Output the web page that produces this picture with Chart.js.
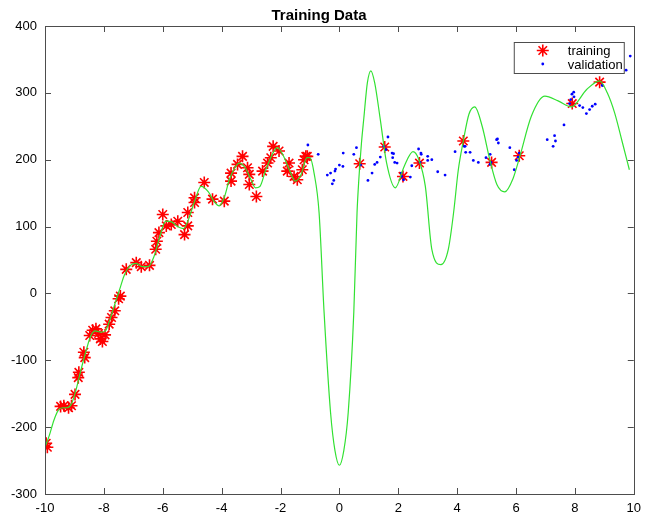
<!DOCTYPE html>
<html>
<head>
<meta charset="utf-8">
<script src="https://cdn.jsdelivr.net/npm/chart.js@4/dist/chart.umd.min.js"></script>
<style>
  html, body { margin: 0; padding: 0; background: #fff; }
  #wrap { width: 648px; height: 519px; position: relative; }
</style>
</head>
<body>
<div id="wrap"><canvas id="trainingChart"></canvas></div>
<script>
// Training samples (red asterisks)
const trainX = [-9.96, -9.92, -9.47, -9.36, -9.2, -9.1, -8.98, -8.87, -8.85, -8.68, -8.65, -8.48, -8.38, -8.27, -8.18, -8.12, -8.05, -7.96, -7.82, -7.74, -7.63, -7.5, -7.44, -7.24, -6.9, -6.73, -6.45, -6.24, -6.2, -6.13, -6.0, -5.88, -5.71, -5.49, -5.26, -5.15, -5.15, -4.92, -4.92, -4.59, -4.31, -3.91, -3.68, -3.68, -3.46, -3.29, -3.12, -3.06, -3.06, -2.82, -2.61, -2.44, -2.33, -2.25, -2.05, -1.77, -1.71, -1.54, -1.43, -1.26, -1.2, -1.14, -1.09, 0.69, 1.54, 2.16, 2.72, 4.21, 5.17, 6.11, 7.91, 8.84];
const trainY = [-224, -230, -169, -168, -171, -168, -151, -126, -118, -88, -96, -63, -55, -53, -60, -68, -72, -62, -46, -36, -26, -8, -4, 36, 46, 40, 42, 66, 78, 91, 118, 101, 103, 108, 88, 121, 101, 136, 143, 166, 141, 138, 180, 168, 193, 205, 188, 178, 163, 145, 183, 195, 203, 220, 213, 183, 195, 175, 170, 185, 200, 205, 205, 194, 219, 175, 195, 228, 196, 206, 284, 316];

// Validation samples (blue dots)
const valX = [-1.07, -0.72, -0.41, -0.3, -0.24, -0.19, -0.15, -0.13, 0.0, 0.12, 0.13, 0.49, 0.58, 0.72, 0.97, 1.11, 1.2, 1.28, 1.39, 1.51, 1.58, 1.65, 1.79, 1.81, 1.84, 1.88, 1.96, 2.1, 2.12, 2.18, 2.41, 2.46, 2.69, 2.74, 2.77, 2.78, 3.0, 3.0, 3.14, 3.34, 3.59, 3.93, 4.24, 4.27, 4.29, 4.44, 4.55, 4.72, 4.98, 5.12, 5.12, 5.15, 5.34, 5.37, 5.4, 5.79, 5.94, 6.02, 6.07, 6.11, 7.06, 7.26, 7.31, 7.34, 7.63, 7.82, 7.86, 7.9, 7.96, 7.97, 8.16, 8.27, 8.39, 8.5, 8.59, 8.69, 8.93, 9.74, 9.88];
const valY = [222, 208, 177, 180, 164, 169, 183, 186, 192, 190, 210, 208, 218, 192, 169, 180, 193, 196, 204, 220, 215, 234, 210, 203, 209, 196, 195, 180, 175, 170, 174, 191, 216, 196, 210, 208, 205, 199, 200, 182, 177, 212, 220, 220, 211, 211, 199, 196, 203, 208, 193, 196, 230, 231, 225, 218, 185, 199, 204, 210, 230, 220, 236, 228, 252, 284, 290, 298, 301, 294, 281, 278, 269, 275, 280, 283, 311, 334, 355];

// Fitted curve (green line)
const curveX = [-10, -9.85, -9.7, -9.55, -9.4, -9.25, -9.1, -8.95, -8.8, -8.6, -8.45, -8.3, -8.1, -7.95, -7.8, -7.6, -7.45, -7.3, -7.1, -6.9, -6.7, -6.5, -6.3, -6.1, -5.9, -5.7, -5.5, -5.3, -5.15, -4.9, -4.7, -4.45, -4.25, -4.08, -3.9, -3.74, -3.55, -3.4, -3.2, -3.0, -2.85, -2.7, -2.5, -2.3, -2.12, -1.95, -1.7, -1.5, -1.3, -1.1, -1.0, -0.86, -0.69, -0.52, -0.3, -0.15, 0, 0.15, 0.3, 0.49, 0.6, 0.66, 0.75, 0.83, 0.95, 1.07, 1.2, 1.39, 1.6, 1.9, 2.2, 2.5, 2.7, 2.92, 3.14, 3.45, 3.7, 3.88, 4.04, 4.21, 4.4, 4.6, 4.85, 5.11, 5.35, 5.62, 5.9, 6.13, 6.52, 6.98, 7.43, 7.88, 8.4, 8.84, 9.1, 9.35, 9.6, 9.85];
const curveY = [-230, -212, -190, -175, -171, -171, -165, -145, -118, -85, -64, -56, -58, -56, -40, -12, 8, 28, 42, 45, 40, 40, 55, 85, 108, 107, 100, 97, 108, 140, 160, 152, 137, 131, 145, 170, 188, 195, 188, 170, 158, 160, 185, 206, 218, 210, 185, 168, 178, 203, 203, 180, 121, -28, -178, -235, -257, -235, -178, -28, 121, 170, 225, 262, 315, 333, 315, 260, 196, 158, 190, 212, 200, 160, 66, 43, 66, 121, 185, 228, 268, 279, 250, 200, 163, 152, 172, 205, 265, 295, 288, 279, 305, 318, 300, 270, 228, 185];

const xTicks = [-10, -8, -6, -4, -2, 0, 2, 4, 6, 8, 10];
const yTicks = [-300, -200, -100, 0, 100, 200, 300, 400];

const legendLabels = ['training', 'validation'];

const FONT = '"Liberation Sans", Arial, Helvetica, sans-serif';
const AXIS_COLOR = '#4d4d4d';

function toPoints(xs, ys) {
    return xs.map((x, i) => ({ x: x, y: ys[i] }));
}

// MATLAB style box with inward ticks on all four sides
const boxTicks = {
    id: 'boxTicks',
    afterDatasetsDraw(chart) {
        const ctx = chart.ctx;
        const a = chart.chartArea;
        const xs = chart.scales.x;
        const ys = chart.scales.y;
        const len = 6;
        ctx.save();
        ctx.strokeStyle = AXIS_COLOR;
        ctx.lineWidth = 1;
        ctx.beginPath();
        xTicks.forEach(v => {
            const px = Math.round(xs.getPixelForValue(v)) + 0.5;
            ctx.moveTo(px, a.bottom);
            ctx.lineTo(px, a.bottom - len);
            ctx.moveTo(px, a.top);
            ctx.lineTo(px, a.top + len);
        });
        yTicks.forEach(v => {
            const py = Math.round(ys.getPixelForValue(v)) + 0.5;
            ctx.moveTo(a.left, py);
            ctx.lineTo(a.left + len, py);
            ctx.moveTo(a.right, py);
            ctx.lineTo(a.right - len, py);
        });
        ctx.stroke();
        ctx.strokeRect(Math.round(a.left) + 0.5, Math.round(a.top) + 0.5,
            Math.round(a.right - a.left), Math.round(a.bottom - a.top));
        ctx.restore();
    }
};

// Legend box in the top right corner of the axes
const cornerLegend = {
    id: 'cornerLegend',
    afterDraw(chart) {
        const ctx = chart.ctx;
        const a = chart.chartArea;
        const w = 110, h = 31;
        const left = a.right - 10 - w;
        const top = a.top + 16;
        ctx.save();
        ctx.fillStyle = '#fff';
        ctx.fillRect(left, top, w, h);
        ctx.strokeStyle = AXIS_COLOR;
        ctx.lineWidth = 1;
        ctx.strokeRect(left + 0.5, top + 0.5, w, h);

        ctx.font = '13px ' + FONT;
        ctx.textBaseline = 'middle';
        legendLabels.forEach((label, i) => {
            const ds = chart.data.datasets[i];
            const cy = top + 8.5 + i * 13.5;
            ctx.fillStyle = ds.backgroundColor;
            ctx.strokeStyle = ds.borderColor;
            ctx.lineWidth = ds.borderWidth;
            Chart.helpers.drawPoint(ctx, {
                pointStyle: ds.pointStyle,
                radius: ds.pointRadius,
                borderWidth: ds.borderWidth
            }, left + 29, cy);
            ctx.fillStyle = '#000';
            ctx.fillText(label, left + 54, cy + 1);
        });
        ctx.restore();
    }
};

const ctx = document.getElementById('trainingChart');

new Chart(ctx, {
    type: 'scatter',
    data: {
        datasets: [
            {
                label: 'training',
                data: toPoints(trainX, trainY),
                pointStyle: 'star',
                pointRadius: 6,
                borderWidth: 1.6,
                borderColor: 'rgb(255, 0, 0)',
                backgroundColor: 'rgb(255, 0, 0)',
                order: 3
            },
            {
                label: 'validation',
                data: toPoints(valX, valY),
                pointStyle: 'circle',
                pointRadius: 1.4,
                borderWidth: 0,
                borderColor: 'rgb(0, 0, 255)',
                backgroundColor: 'rgb(0, 0, 255)',
                order: 2
            },
            {
                label: 'fit',
                data: toPoints(curveX, curveY),
                showLine: true,
                pointRadius: 0,
                borderWidth: 1.2,
                borderColor: 'rgb(50, 225, 50)',
                backgroundColor: 'rgb(50, 225, 50)',
                cubicInterpolationMode: 'monotone',
                order: 1
            }
        ]
    },
    options: {
        responsive: true,
        maintainAspectRatio: false,
        animation: false,
        events: [],
        layout: {
            padding: { left: 0, right: 10, top: 0, bottom: 0 }
        },
        plugins: {
            legend: { display: false },
            tooltip: { enabled: false },
            title: {
                display: true,
                text: 'Training Data',
                color: '#000',
                font: { family: FONT, size: 15, weight: 'bold' },
                padding: { top: 7, bottom: 1 }
            }
        },
        scales: {
            x: {
                type: 'linear',
                min: -10,
                max: 10,
                afterFit: scale => { scale.height = 25; },
                afterBuildTicks: scale => {
                    scale.ticks = xTicks.map(v => ({ value: v }));
                },
                grid: { display: false, drawTicks: false },
                border: { display: false },
                ticks: {
                    color: '#000',
                    padding: 7,
                    maxRotation: 0,
                    font: { family: FONT, size: 13 }
                }
            },
            y: {
                type: 'linear',
                min: -300,
                max: 400,
                afterFit: scale => { scale.width = 45; },
                afterBuildTicks: scale => {
                    scale.ticks = yTicks.map(v => ({ value: v }));
                },
                grid: { display: false, drawTicks: false },
                border: { display: false },
                ticks: {
                    color: '#000',
                    padding: 8,
                    font: { family: FONT, size: 13 }
                }
            }
        }
    },
    plugins: [boxTicks, cornerLegend]
});
</script>
</body>
</html>
